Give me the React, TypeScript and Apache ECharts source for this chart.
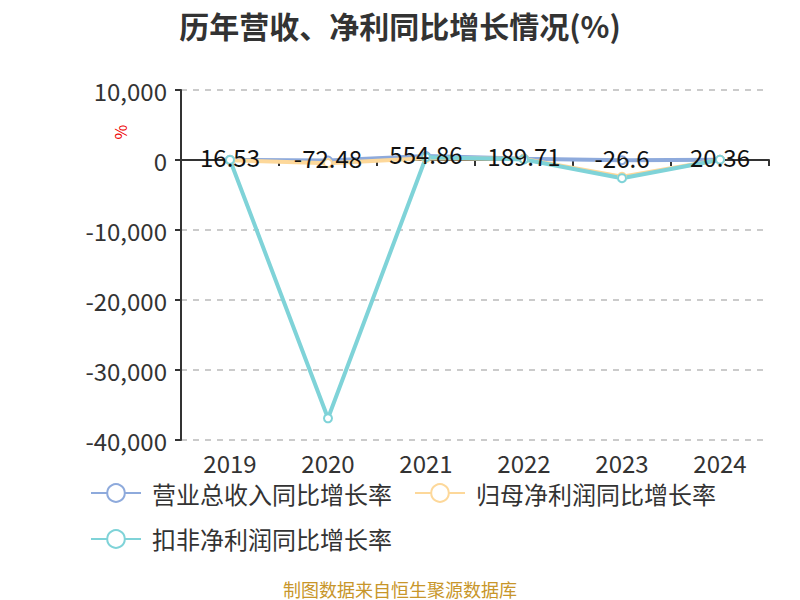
import React, { useEffect, useRef } from "react";
import * as echarts from "echarts";

const years = ["2019", "2020", "2021", "2022", "2023", "2024"];
const revenueGrowth = [16.53, -72.48, 554.86, 189.71, -26.6, 20.36];
const netProfitGrowth = [-30, -450, 250, 150, -2400, 30];
const deductedProfitGrowth = [10, -36900, 400, 80, -2600, 40];
const seriesNames = ["营业总收入同比增长率", "归母净利润同比增长率", "扣非净利润同比增长率"];
const colors = ["#8eaadc", "#fdd89a", "#7fd3d8"];
const FONT = "Noto Sans CJK SC";

export default function App() {
  const ref = useRef<HTMLDivElement>(null);
  useEffect(() => {
    if (!ref.current) return;
    const chart = echarts.init(ref.current, undefined, { renderer: "svg" });
    const mk = (name: string, data: number[], color: string, label: boolean) => ({
      name,
      type: "line",
      data,
      xAxisIndex: 0,
      symbol: "circle",
      symbolSize: 8,
      lineStyle: { width: 4, color },
      itemStyle: { color: "#fff", borderColor: color, borderWidth: 2 },
      label: label
        ? { show: true, position: "inside", offset: [0, -3], color: "#111", fontSize: 24, fontFamily: FONT }
        : { show: false },
    });
    chart.setOption({
      animation: false,
      color: colors,
      title: {
        text: "历年营收、净利同比增长情况(%)",
        left: "center",
        top: 5,
        textStyle: { fontSize: 30, fontWeight: "bold", color: "#333", fontFamily: FONT },
      },
      legend: {
        data: seriesNames,
        left: 90,
        top: 481,
        width: 680,
        itemWidth: 50,
        itemHeight: 22,
        itemGap: 22,
        textStyle: { fontSize: 24, color: "#333", fontFamily: FONT, padding: [0, 0, 0, 6] },
        padding: 0,
      },
      grid: { left: 181, right: 31, top: 90, bottom: 160, containLabel: false, outerBoundsMode: "none" },
      xAxis: [
        {
          type: "category",
          data: years,
          boundaryGap: true,
          axisLine: { onZero: true, lineStyle: { color: "#333", width: 2 } },
          axisTick: { show: true, length: 6, lineStyle: { color: "#333", width: 2 } },
          axisLabel: { show: false },
        },
        {
          type: "category",
          data: years,
          position: "bottom",
          boundaryGap: true,
          axisLine: { show: false, onZero: false },
          axisTick: { show: false },
          axisLabel: { show: true, fontSize: 24, color: "#333", margin: 10, fontFamily: FONT },
        },
      ],
      yAxis: {
        type: "value",
        min: -40000,
        max: 10000,
        interval: 10000,
        axisLine: { show: true, lineStyle: { color: "#333", width: 2 } },
        axisTick: { show: true, length: 6, lineStyle: { color: "#333", width: 2 } },
        axisLabel: { fontSize: 24, color: "#333", margin: 14, fontFamily: FONT },
        splitLine: { show: true, lineStyle: { type: [6, 6], color: "#bbb", width: 1.5 } },
      },
      series: [
        mk(seriesNames[0], revenueGrowth, colors[0], true),
        mk(seriesNames[1], netProfitGrowth, colors[1], false),
        mk(seriesNames[2], deductedProfitGrowth, colors[2], false),
      ],
      graphic: [
        {
          type: "text",
          x: 120,
          y: 132,
          rotation: Math.PI / 2,
          style: { text: "%", fontSize: 16, fill: "#e00", fontFamily: FONT, align: "center", verticalAlign: "middle" },
        },
        {
          type: "text",
          x: 400,
          y: 589,
          style: {
            text: "制图数据来自恒生聚源数据库",
            fontSize: 18,
            fill: "#c8962a",
            fontFamily: FONT,
            align: "center",
            verticalAlign: "middle",
          },
        },
      ],
    });
    return () => chart.dispose();
  }, []);
  return (
    <div
      ref={ref}
      style={{ position: "absolute", left: 0, top: 0, width: 800, height: 600 }}
    />
  );
}
